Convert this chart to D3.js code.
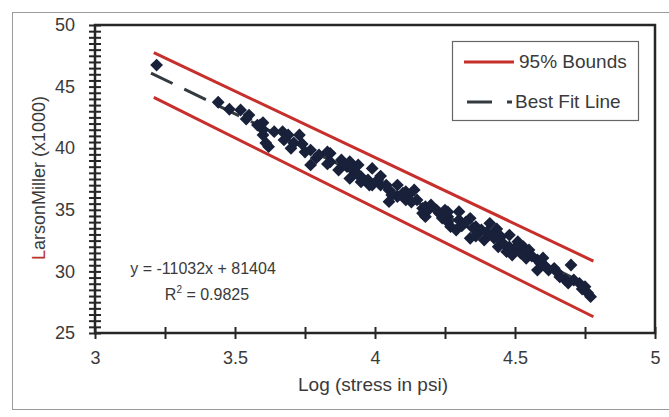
<!DOCTYPE html>
<html>
<head>
<meta charset="utf-8">
<script src="https://cdn.jsdelivr.net/npm/d3@7"></script>
<style>
  html, body { margin: 0; padding: 0; background: #ffffff; }
  svg { display: block; font-family: "Liberation Sans", Arial, sans-serif; }
</style>
</head>
<body>
<svg id="chart" width="669" height="417"></svg>
<script>
// Log of stress (psi) for each test point
const logStress = [
  3.22, 3.44, 3.48, 3.52, 3.55, 3.54, 3.60, 3.60, 3.60, 3.62, 3.64, 3.59,
  3.67, 3.69, 3.73, 3.70, 3.77, 3.77, 3.84, 3.84, 3.88, 3.90, 3.91, 3.91,
  3.93, 3.94, 3.95, 3.99, 3.98, 4.01, 4.02, 4.05, 4.08, 4.05, 4.08, 4.11,
  4.14, 4.15, 4.17, 4.17, 4.23, 4.25, 4.18, 4.18, 4.26, 4.27, 4.30, 4.30,
  4.34, 4.34, 4.36, 4.38, 4.41, 4.42, 4.44, 4.45, 4.48, 4.47, 4.50, 4.51,
  4.53, 4.54, 4.58, 4.58, 4.61, 4.64, 4.68, 4.70, 4.73, 4.75, 4.77,
  3.58, 3.61, 3.675, 3.71, 3.74, 3.75, 3.79, 3.80, 3.83, 3.83, 3.87, 3.89,
  3.92, 3.94, 3.95, 3.975, 3.99, 4.02, 4.04, 4.06, 4.10, 4.11, 4.12, 4.13,
  4.19, 4.20, 4.22, 4.24, 4.26, 4.26, 4.29, 4.31, 4.325, 4.35, 4.36, 4.39,
  4.40, 4.425, 4.435, 4.46, 4.48, 4.49, 4.51, 4.52, 4.55, 4.56, 4.59, 4.60,
  4.62, 4.65, 4.66, 4.69, 4.71, 4.74, 4.76
];
// Larson-Miller parameter (x1000) for each test point
const larsonMiller = [
  46.75, 43.73, 43.16, 43.10, 42.69, 42.37, 42.07, 41.07, 41.50, 40.12, 41.34, 41.90,
  41.34, 41.07, 41.07, 39.99, 39.85, 38.64, 39.58, 38.90, 39.04, 38.50, 38.90, 37.55,
  38.09, 38.64, 37.69, 38.36, 37.01, 37.42, 37.01, 36.61, 37.01, 35.66, 36.07, 36.47,
  36.61, 35.80, 35.12, 34.72, 34.72, 34.98, 35.25, 34.44, 34.44, 33.63, 34.17, 34.85,
  34.31, 32.69, 33.63, 33.36, 33.90, 32.95, 32.00, 32.82, 32.95, 31.60, 31.74, 32.41,
  32.00, 31.06, 30.93, 30.11, 30.38, 30.25, 29.30, 30.52, 29.03, 28.76, 27.95,
  41.88, 40.42, 40.67, 40.42, 40.34, 39.69, 39.20, 39.45, 39.69, 38.72, 38.23, 38.72,
  38.23, 37.82, 37.26, 37.42, 37.01, 37.74, 37.01, 36.20, 36.36, 35.80, 36.20, 35.63,
  34.98, 35.39, 34.98, 34.33, 34.01, 34.82, 33.36, 33.69, 34.01, 33.52, 32.87, 32.55,
  33.20, 32.71, 33.44, 32.22, 31.98, 31.33, 32.14, 31.49, 31.74, 31.25, 30.68, 31.09,
  30.11, 29.95, 29.55, 29.06, 29.30, 28.57, 28.25
];

// Linear fit: y = -11032x + 81404 (in LMP units)
const fitSlope = -11032;
const fitIntercept = 81404;
const fitRange = [3.2, 4.74];

// 95% bound lines, end points (log stress, LMP x1000)
const upperBound = [[3.21, 47.75], [4.78, 30.84]];
const lowerBound = [[3.21, 44.13], [4.78, 26.32]];

// Axis ticks and labels
const xTickLabels = [3, 3.5, 4, 4.5, 5];
const yTickLabels = [25, 30, 35, 40, 45, 50];
const xMinorStep = 0.25;
const yMinorStep = 0.5;

const svg = d3.select("#chart");
const plot = { left: 95, right: 655, top: 25, bottom: 333 };

const x = d3.scaleLinear().domain([3, 5]).range([plot.left, plot.right]);
const y = d3.scaleLinear().domain([25, 50]).range([plot.bottom, plot.top]);

const ink = "#262626";
const textInk = "#3a3a3a";
const red = "#c62f2b";
const navy = "#18203a";

// outer chart border
svg.append("rect")
  .attr("x", 12.5).attr("y", 12.5)
  .attr("width", 680).attr("height", 397)
  .attr("fill", "none").attr("stroke", "#9a9a9a").attr("stroke-width", 1);

// bound lines
const line = d3.line().x(d => x(d[0])).y(d => y(d[1]));
[upperBound, lowerBound].forEach(b => {
  svg.append("path").attr("d", line(b))
    .attr("fill", "none").attr("stroke", red).attr("stroke-width", 3);
});

// best-fit line
const fitPts = fitRange.map(v => [v, (fitSlope * v + fitIntercept) / 1000]);
svg.append("path").attr("d", line(fitPts))
  .attr("fill", "none").attr("stroke", "#333a40").attr("stroke-width", 3)
  .attr("stroke-dasharray", "24,13");

// data points (diamonds)
const diamond = d3.symbol().type(d3.symbolSquare).size(82);
svg.append("g").selectAll("path")
  .data(logStress.map((v, i) => [v, larsonMiller[i]]))
  .join("path")
  .attr("d", diamond)
  .attr("transform", d => `translate(${x(d[0])},${y(d[1])}) rotate(45)`)
  .attr("fill", navy);

// frame
svg.append("rect")
  .attr("x", plot.left).attr("y", plot.top)
  .attr("width", plot.right - plot.left).attr("height", plot.bottom - plot.top)
  .attr("fill", "none").attr("stroke", ink).attr("stroke-width", 2.5);

// x axis
const xMinor = d3.range(3, 5 + 1e-9, xMinorStep);
const xAxis = d3.axisBottom(x)
  .tickValues(xMinor)
  .tickSize(6)
  .tickPadding(12)
  .tickFormat(d => xTickLabels.some(t => Math.abs(t - d) < 1e-9) ? String(+d.toFixed(2)) : "");
const gx = svg.append("g").attr("transform", `translate(0,${plot.bottom})`).call(xAxis);
gx.select(".domain").remove();
gx.selectAll(".tick line").attr("y1", -6).attr("y2", 6).attr("stroke", ink).attr("stroke-width", 2);
gx.selectAll(".tick text").attr("font-size", 18).attr("fill", textInk)
  .attr("font-family", "Liberation Sans, Arial, sans-serif");

// y axis
const yMinor = d3.range(25, 50 + 1e-9, yMinorStep);
const yAxis = d3.axisLeft(y)
  .tickValues(yMinor)
  .tickSize(6)
  .tickPadding(14)
  .tickFormat(d => yTickLabels.some(t => Math.abs(t - d) < 1e-9) ? String(d) : "");
const gy = svg.append("g").attr("transform", `translate(${plot.left},0)`).call(yAxis);
gy.select(".domain").remove();
gy.selectAll(".tick line").attr("x1", -6).attr("x2", 6).attr("stroke", ink).attr("stroke-width", 2);
gy.selectAll(".tick text").attr("font-size", 18).attr("fill", textInk)
  .attr("font-family", "Liberation Sans, Arial, sans-serif");

// axis titles
svg.append("text")
  .attr("x", 373).attr("y", 391)
  .attr("text-anchor", "middle").attr("font-size", 19).attr("fill", textInk)
  .text("Log (stress in psi)");

const yTitle = svg.append("text")
  .attr("transform", "translate(45,178) rotate(-90)")
  .attr("text-anchor", "middle").attr("font-size", 18).attr("fill", textInk);
yTitle.append("tspan").attr("fill", "#b8342c").text("L");
yTitle.append("tspan").text("arsonMiller (x1000)");

// regression annotation
svg.append("text")
  .attr("x", 203).attr("y", 274).attr("text-anchor", "middle")
  .attr("font-size", 16).attr("fill", textInk)
  .text(`y = ${String(fitSlope)}x + ${fitIntercept}`);
const r2 = svg.append("text")
  .attr("x", 207).attr("y", 300).attr("text-anchor", "middle")
  .attr("font-size", 16).attr("fill", textInk);
r2.append("tspan").text("R");
r2.append("tspan").attr("dy", -7).attr("font-size", 10).text("2");
r2.append("tspan").attr("dy", 7).text(" = 0.9825");

// legend
const lg = svg.append("g");
lg.append("rect")
  .attr("x", 452.5).attr("y", 41.5).attr("width", 186).attr("height", 79)
  .attr("fill", "#fff").attr("stroke", "#666").attr("stroke-width", 1.2);
lg.append("line").attr("x1", 464).attr("x2", 514).attr("y1", 62).attr("y2", 62)
  .attr("stroke", red).attr("stroke-width", 3);
lg.append("text").attr("x", 519).attr("y", 68).attr("font-size", 19).attr("fill", textInk)
  .text("95% Bounds");
lg.append("line").attr("x1", 467).attr("x2", 512).attr("y1", 102).attr("y2", 102)
  .attr("stroke", "#333a40").attr("stroke-width", 3).attr("stroke-dasharray", "25,15");
lg.append("text").attr("x", 515).attr("y", 108).attr("font-size", 19).attr("fill", textInk)
  .text("Best Fit Line");
</script>
</body>
</html>
